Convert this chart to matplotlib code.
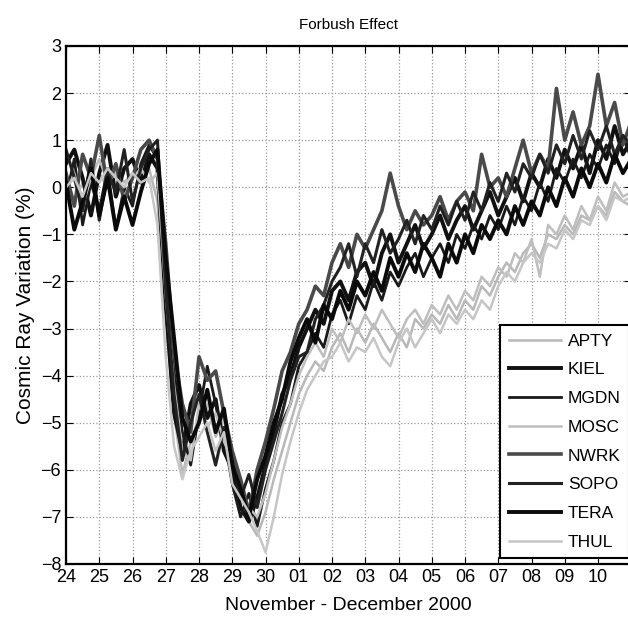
import numpy as np
import matplotlib
matplotlib.use("Agg")
import matplotlib.pyplot as plt

# Neutron monitor count-rate variation, 6-hourly, 24 Nov - 10 Dec 2000
# one row per day (00, 06, 12, 18 UT), last value is 11 Dec 00 UT
APTY = [0.2, -0.3, 0.1, -0.6,  0.3, 0.0, 0.4, 0.1,  0.3, 0.2, 0.4, -0.3,
        -2.8, -4.8, -6.1, -5.4,  -5.0, -4.6, -5.3, -4.9,  -6.1, -6.5, -7.1, -7.4,
        -6.9, -6.2, -5.6, -5.0,  -4.4, -4.0, -3.7, -3.9,  -3.4, -3.1, -3.5, -3.0,
        -3.3, -2.9, -3.2, -3.5,  -3.1, -3.4, -2.8, -3.0,  -2.7, -2.9, -2.5, -2.8,
        -2.4, -2.6, -2.1, -2.3,  -1.9, -1.6, -1.8, -1.4,  -1.2, -1.5, -1.0, -1.1,
        -0.8, -1.0, -0.6, -0.7,  -0.4, -0.6, -0.1, -0.3,  -0.4]
KIEL = [0.5, 0.8, 0.2, -0.6,  0.3, 0.9, -0.2, 0.4,  0.6, 0.1, 0.7, 0.4,
        -2.5, -4.8, -5.6, -4.6,  -4.2, -4.9, -4.5, -5.6,  -6.0, -6.8, -7.1, -6.6,
        -5.9, -5.2, -4.4, -4.0,  -3.4, -3.0, -2.6, -2.9,  -2.2, -2.0, -2.4, -1.8,
        -1.6, -2.1, -1.4, -1.0,  -1.6, -1.2, -0.8, -1.3,  -1.0, -0.6, -1.1, -0.7,
        -0.4, -0.9, -0.5, -0.1,  -0.6, -0.2, 0.2, -0.3,  0.3, 0.0, 0.6, 0.2,
        0.8, 0.4, 0.9, 0.3,  1.0, 0.6, 1.3, 0.7,  1.0]
MGDN = [-0.2, 0.6, -0.8, 0.1,  -0.5, 0.4, -0.9, 0.0,  -0.4, 0.5, 0.9, 0.6,
        -1.8, -3.9, -5.2, -5.9,  -4.8, -3.8, -4.6, -5.3,  -6.3, -7.0, -6.5, -7.2,
        -6.4, -5.8, -5.0, -4.6,  -3.8, -3.5, -3.1, -3.4,  -2.7, -2.4, -2.9, -2.3,
        -2.6, -2.0, -2.4, -1.8,  -2.1, -1.7, -1.4, -1.9,  -1.5, -1.2, -1.6, -1.0,
        -1.3, -0.8, -1.1, -0.6,  -0.9, -0.4, -0.8, -0.2,  -0.5, 0.1, -0.3, 0.4,
        0.1, 0.6, 0.2, 0.7,  0.4, 0.9, 0.5, 1.1,  0.6]
MOSC = [-0.1, 0.3, -0.4, 0.2,  0.6, 0.1, 0.3, -0.2,  0.2, 0.4, 0.1, 0.3,
        -2.3, -4.2, -5.6, -5.8,  -4.6, -5.1, -4.8, -5.4,  -5.8, -6.3, -6.8, -7.0,
        -6.5, -5.8, -5.1, -4.6,  -4.0, -3.6, -3.3, -3.6,  -3.0, -3.3, -2.8, -3.1,
        -2.7, -3.0, -2.6, -2.9,  -3.2, -2.8, -2.6, -2.9,  -2.5, -2.7, -2.3, -2.6,
        -2.2, -2.4, -1.9, -2.1,  -1.7, -1.9, -1.4, -1.6,  -1.1, -1.9, -0.8, -1.0,
        -0.6, -0.9, -0.4, -0.7,  -0.2, -0.5, 0.1, -0.2,  -0.1]
NWRK = [0.3, -0.4, 0.7, 0.2,  1.1, 0.0, 0.5, -0.3,  0.2, 0.8, 1.0, 0.6,
        -1.2, -3.5, -4.6, -5.2,  -3.6, -4.1, -3.9, -4.8,  -5.6, -6.2, -6.9, -6.0,
        -5.4, -4.7, -3.9, -3.5,  -2.9, -2.6, -2.1, -2.3,  -1.6, -1.2, -1.7, -1.0,
        -1.3, -0.9, -0.5, 0.3,  -0.4, -0.9, -0.5, -0.8,  -0.6, -0.2, -0.7, -0.3,
        -0.1, -0.5, 0.7, 0.0,  0.2, -0.2, 0.4, 1.0,  0.3, 0.7, 0.4, 2.1,
        1.0, 1.6, 0.9, 1.3,  2.4, 1.3, 1.8, 0.9,  1.4]
SOPO = [0.8, 0.2, -0.5, 0.6,  -0.7, 0.3, -0.1, 0.8,  -0.3, 0.4, 0.8, 1.0,
        -2.2, -4.4, -5.8, -5.0,  -4.4, -5.2, -5.9, -5.1,  -5.8, -6.6, -6.1, -6.8,
        -6.0, -5.4, -4.8, -4.1,  -3.6, -3.5, -2.8, -2.5,  -2.0, -1.7, -1.2, -1.9,
        -1.2, -1.6, -0.9, -1.4,  -1.1, -0.7, -1.2, -0.6,  -0.9, -0.4, -0.8, -0.3,
        -0.7, -0.1, -0.5, 0.1,  -0.3, 0.3, -0.1, 0.5,  0.2, 0.7, 0.3, 0.9,
        0.5, 1.1, 0.6, 1.2,  0.8, 1.3, 0.7, 1.1,  0.9]
TERA = [0.1, -0.9, -0.3, 0.4,  -0.6, 0.2, -0.9, -0.2,  -0.8, -0.1, 0.5, 0.8,
        -1.5, -3.2, -4.9, -5.4,  -5.0, -4.3, -5.2, -4.7,  -5.9, -6.4, -7.0, -6.2,
        -5.7, -5.0, -4.5, -3.7,  -3.2, -2.8, -3.3, -2.5,  -2.8, -2.2, -2.6, -2.0,
        -2.3, -1.8, -2.2, -1.5,  -1.9, -1.4, -1.8, -1.2,  -1.5, -1.9, -1.2, -1.6,
        -1.0, -1.4, -0.8, -1.1,  -0.7, -1.0, -0.4, -0.8,  -0.3, -0.6, 0.0, -0.4,
        0.2, -0.2, 0.4, 0.0,  0.5, 0.1, 0.7, 0.3,  0.6]
THUL = [0.0, 0.2, -0.2, 0.3,  0.1, 0.4, 0.2, 0.0,  0.3, 0.1, 0.2, -0.8,
        -3.6, -5.5, -6.2, -5.6,  -5.3, -5.0, -5.6, -5.2,  -6.3, -6.6, -6.9, -7.3,
        -7.75, -7.0, -6.1, -5.4,  -4.8, -4.3, -4.0, -3.7,  -3.6, -3.3, -3.7, -3.4,
        -3.5, -3.2, -3.6, -3.8,  -3.3, -3.0, -3.4, -3.1,  -2.8, -3.1, -2.7, -2.9,
        -2.6, -2.8, -2.4, -2.6,  -2.1, -1.8, -2.0, -1.6,  -1.4, -1.6, -1.2, -1.3,
        -0.9, -1.1, -0.7, -0.8,  -0.4, -0.7, -0.2, -0.3,  -0.2]

stations = ["APTY", "KIEL", "MGDN", "MOSC", "NWRK", "SOPO", "TERA", "THUL"]
series = [APTY, KIEL, MGDN, MOSC, NWRK, SOPO, TERA, THUL]
day_labels = ["24", "25", "26", "27", "28", "29", "30", "01", "02",
              "03", "04", "05", "06", "07", "08", "09", "10"]

styles = {
    "APTY": dict(color="#b8b8b8", lw=1.8),
    "KIEL": dict(color="#111111", lw=2.8),
    "MGDN": dict(color="#1a1a1a", lw=2.0),
    "MOSC": dict(color="#bebebe", lw=1.8),
    "NWRK": dict(color="#4a4a4a", lw=2.6),
    "SOPO": dict(color="#222222", lw=2.2),
    "TERA": dict(color="#0a0a0a", lw=2.8),
    "THUL": dict(color="#c6c6c6", lw=1.8),
}

plt.rcParams['font.family'] = ['Liberation Sans', 'DejaVu Sans']

fig = plt.figure(figsize=(6.28, 6.19), dpi=100)
ax = fig.add_axes([66 / 628, 1 - 564 / 619, 17 * 33.25 / 628, 518 / 619])

for name, vals in zip(stations, series):
    t = np.arange(len(vals)) * 0.25
    ax.plot(t, vals, label=name, **styles[name])

ax.set_xlim(0, 17)
ax.set_ylim(-8, 3)
ax.set_xticks(np.arange(len(day_labels)))
ax.set_xticklabels(day_labels)
ax.set_yticks(np.arange(-8, 4))
ax.tick_params(direction="in", top=True, right=True, labelsize=13, length=5)
ax.grid(True, linestyle=":", color="#999999", lw=0.9)
for sp in ax.spines.values():
    sp.set_linewidth(1.6)

ax.set_title("Forbush Effect", fontsize=11, pad=12)
ax.set_xlabel("November - December 2000", fontsize=14, labelpad=8)
ax.set_ylabel("Cosmic Ray Variation (%)", fontsize=15, labelpad=4)

leg = ax.legend(loc="lower left", bbox_to_anchor=(0.768, 0.011), fontsize=12.5,
                handlelength=3.0, labelspacing=0.78, borderaxespad=0.0,
                fancybox=False, framealpha=1, edgecolor="black",
                handletextpad=0.4, borderpad=0.5)
leg.get_frame().set_linewidth(1.5)

fig.savefig("out.png", dpi=100)
